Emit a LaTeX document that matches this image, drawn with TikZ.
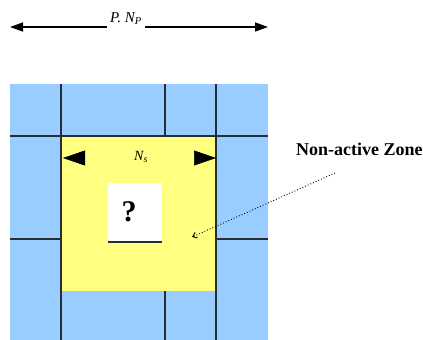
\documentclass[tikz,border=0pt]{standalone}
\usepackage{fontspec}
\setmainfont{Liberation Serif}
\usetikzlibrary{arrows.meta}
\definecolor{cellblue}{RGB}{153,204,255}
\definecolor{zoneyellow}{RGB}{255,255,128}
\definecolor{griddark}{RGB}{40,44,52}
\begin{document}
\begin{tikzpicture}[x=1pt, y=-1pt,
  gridl/.style={draw=griddark, line width=1.3pt},
  widtharrow/.style={-{Triangle[length=13pt,width=9pt]}, line width=1.3pt},
  sidetip/.style={draw=zoneyellow, -{Triangle[length=22pt,width=15pt,color=black]}, line width=0.5pt}]
 \useasboundingbox (0,0) rectangle (423,340);

 % Zellen und aktive Zone
 \fill[cellblue] (10,84) rectangle (268,340);
 \fill[zoneyellow] (61,136) rectangle (216,291);
 \fill[white] (108,183) rectangle (162,242);

 % Gitterlinien
 \draw[gridl] (10,136) -- (268,136);
 \draw[gridl] (10,239) -- (61,239);
 \draw[gridl] (216,239) -- (268,239);
 \draw[gridl] (61,84) -- (61,340);
 \draw[gridl] (216,84) -- (216,340);
 \draw[gridl] (165,84) -- (165,136);
 \draw[gridl] (165,291) -- (165,340);
 \draw[gridl] (108,242) -- (162,242);

 % Breite oben
 \node[anchor=base, inner sep=3pt, font=\fontsize{15}{17}\selectfont\itshape] (pn) at (126,22) {P. N\textsubscript{P}};
 \coordinate (pl) at (10,27);
 \coordinate (pr) at (268,27);
 \draw[widtharrow] (pn.west |- pl) -- (pl);
 \draw[widtharrow] (pn.east |- pr) -- (pr);

 % Breite der Zone
 \node[font=\fontsize{14}{16}\selectfont\itshape] (ns) at (141,157) {N\textsubscript{s}};
 \coordinate (nsl) at (86,158);
 \coordinate (nsla) at (63,158);
 \coordinate (nsr) at (193,158);
 \coordinate (nsra) at (216,158);
 \draw[sidetip] (nsl) -- (nsla);
 \draw[sidetip] (nsr) -- (nsra);

 % Unbekannte Zelle
 \node[font=\fontsize{30}{32}\selectfont\bfseries] (q) at (129,212) {?};

 % Beschriftung
 \node[anchor=west, inner sep=0pt, font=\fontsize{18}{20}\selectfont\bfseries] (nz) at (296,149) {Non-active Zone};
 \coordinate (dstart) at (335,173);
 \coordinate (dend) at (192,237);
 \draw[dotted, line width=0.9pt, -{Straight Barb[length=4pt,width=6pt]}] (dstart) -- (dend);
\end{tikzpicture}
\end{document}
